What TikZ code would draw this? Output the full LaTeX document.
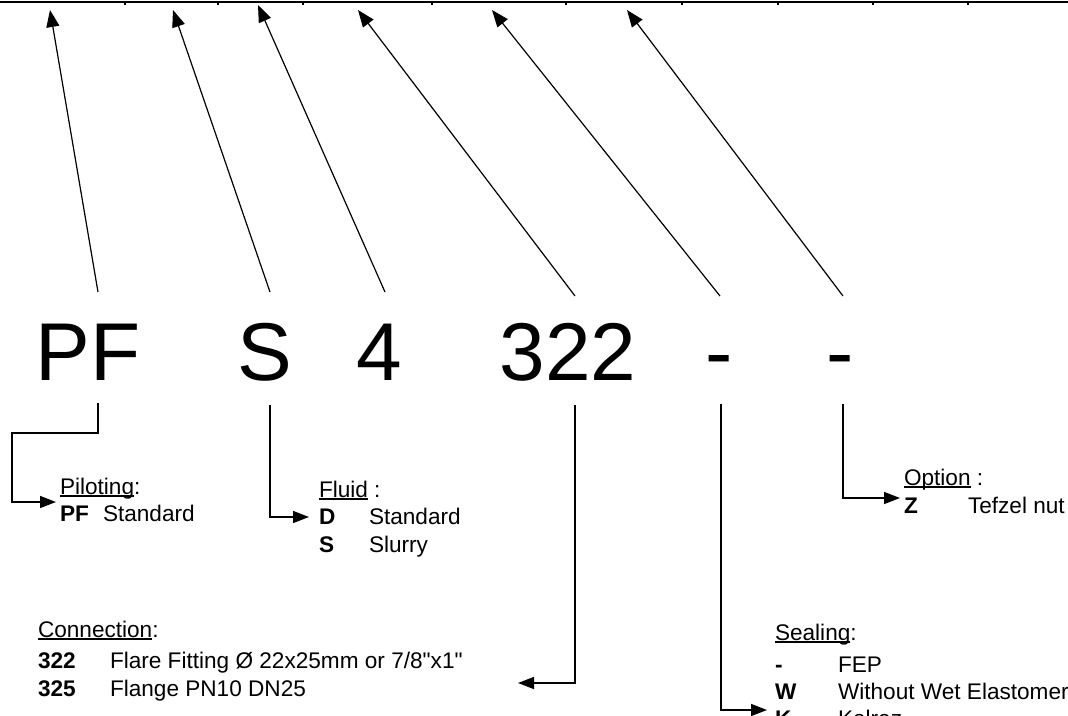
\documentclass[tikz,border=0pt]{standalone}
\usepackage{fontspec}
\setmainfont{Liberation Sans}[Ligatures=TeXOff]
\usetikzlibrary{positioning, arrows.meta}

\newcommand{\hdline}[1]{\setbox0\hbox{#1}\rlap{\rule[-2.6pt]{\wd0}{1.3pt}}\box0}

\begin{document}
\begin{tikzpicture}[
    x=1pt, y=1pt,
    every node/.style={inner sep=0pt, outer sep=0pt},
    codechar/.style={font=\fontsize{82}{90}\selectfont, anchor=base},
    legend/.style={font=\fontsize{22.6}{28}\selectfont, anchor=base west},
    pointer/.style={-{Triangle[length=17pt, width=13pt]}, line width=1.2pt},
    lead/.style={-{Triangle[length=16pt, width=12pt]}, line width=1.5pt},
]

    \clip (0,0) rectangle (1068,-715);

    % table edge at the top
    \draw[line width=2.5pt] (0,-2) -- (1068,-2);
    \draw[line width=1.5pt] (125,-2) -- ++(0,-3) (218,-2) -- ++(0,-3) (303,-2) -- ++(0,-3)
        (432,-2) -- ++(0,-3) (566,-2) -- ++(0,-3) (682,-2) -- ++(0,-3)
        (778,-2) -- ++(0,-3) (873,-2) -- ++(0,-3) (968,-2) -- ++(0,-3);

    % 1. Order code
    \node[codechar] (piloting) at (88,-380) {PF};
    \node[codechar] (fluid) at (265,-380) {S};
    \node[codechar] (series) at (379,-380) {4};
    \node[codechar] (conn) at (568,-380) {322};
    \node[codechar] (sealing) at (719,-380) {-};
    \node[codechar] (option) at (840,-380) {-};

    % 2. Pointers up to the table
    \coordinate (piloting_up) at (98,-292);
    \coordinate (fluid_up) at (270,-292);
    \coordinate (series_up) at (385,-292);
    \coordinate (conn_up) at (575,-296);
    \coordinate (sealing_up) at (720,-296);
    \coordinate (option_up) at (843,-296);

    \coordinate (piloting_tip) at (50,-10);
    \coordinate (fluid_tip) at (173,-10);
    \coordinate (series_tip) at (258,-5);
    \coordinate (conn_tip) at (358,-10);
    \coordinate (sealing_tip) at (492,-10);
    \coordinate (option_tip) at (627,-10);

    \draw[pointer] (piloting_up) -- (piloting_tip);
    \draw[pointer] (fluid_up) -- (fluid_tip);
    \draw[pointer] (series_up) -- (series_tip);
    \draw[pointer] (conn_up) -- (conn_tip);
    \draw[pointer] (sealing_up) -- (sealing_tip);
    \draw[pointer] (option_up) -- (option_tip);

    % 3. Legends
    \node[legend] (piloting_hd) at (60,-494) {\hdline{Piloting}:};
    \node[legend] (piloting_pf) at ([yshift=-27pt]piloting_hd.base west) {\makebox[43pt][l]{\textbf{PF}}Standard};

    \node[legend] (fluid_hd) at (319,-497) {\hdline{Fluid}\ :};
    \node[legend] (fluid_d) at ([yshift=-27pt]fluid_hd.base west) {\makebox[50pt][l]{\textbf{D}}Standard};
    \node[legend] (fluid_s) at ([yshift=-28pt]fluid_d.base west) {\makebox[50pt][l]{\textbf{S}}Slurry};

    \node[legend] (option_hd) at (904,-485) {\hdline{Option}\ :};
    \node[legend] (option_z) at ([yshift=-28pt]option_hd.base west) {\makebox[64pt][l]{\textbf{Z}}Tefzel nut};

    \node[legend] (conn_hd) at (38,-637) {\hdline{Connection}:};
    \node[legend] (conn_a) at ([yshift=-31pt]conn_hd.base west) {\makebox[72pt][l]{\textbf{322}}Flare Fitting Ø 22x25mm or 7/8"x1"};
    \node[legend] (conn_b) at ([yshift=-28pt]conn_a.base west) {\makebox[72pt][l]{\textbf{325}}Flange PN10 DN25};

    \node[legend] (sealing_hd) at (775,-640) {\hdline{Sealing}:};
    \node[legend] (sealing_fep) at ([yshift=-32pt]sealing_hd.base west) {\makebox[63pt][l]{\textbf{-}}FEP};
    \node[legend] (sealing_w) at ([yshift=-27pt]sealing_fep.base west) {\makebox[63pt][l]{\textbf{W}}Without Wet Elastomer};
    \node[legend] (sealing_k) at ([yshift=-27pt]sealing_w.base west) {\makebox[63pt][l]{\textbf{K}}Kalrez};

    % 4. Leads from the code down to the legends
    \coordinate (piloting_down) at (98,-403);
    \coordinate (fluid_down) at (270,-405);
    \coordinate (conn_down) at (575,-405);
    \coordinate (sealing_down) at (721,-404);
    \coordinate (option_down) at (843,-404);
    \coordinate (conn_entry) at (518,-683);

    \draw[lead] (piloting_down) |- (12,-433) |- ([xshift=-4pt,yshift=19pt]piloting_pf.base west);
    \draw[lead] (fluid_down) |- ([xshift=-10pt,yshift=7pt]fluid_d.base west);
    \draw[lead] (option_down) |- ([xshift=-4pt,yshift=15pt]option_z.base west);
    \draw[lead] (conn_down) |- (conn_entry);
    \draw[lead] (sealing_down) |- ([xshift=-8pt,yshift=16pt]sealing_k.base west);

\end{tikzpicture}
\end{document}
